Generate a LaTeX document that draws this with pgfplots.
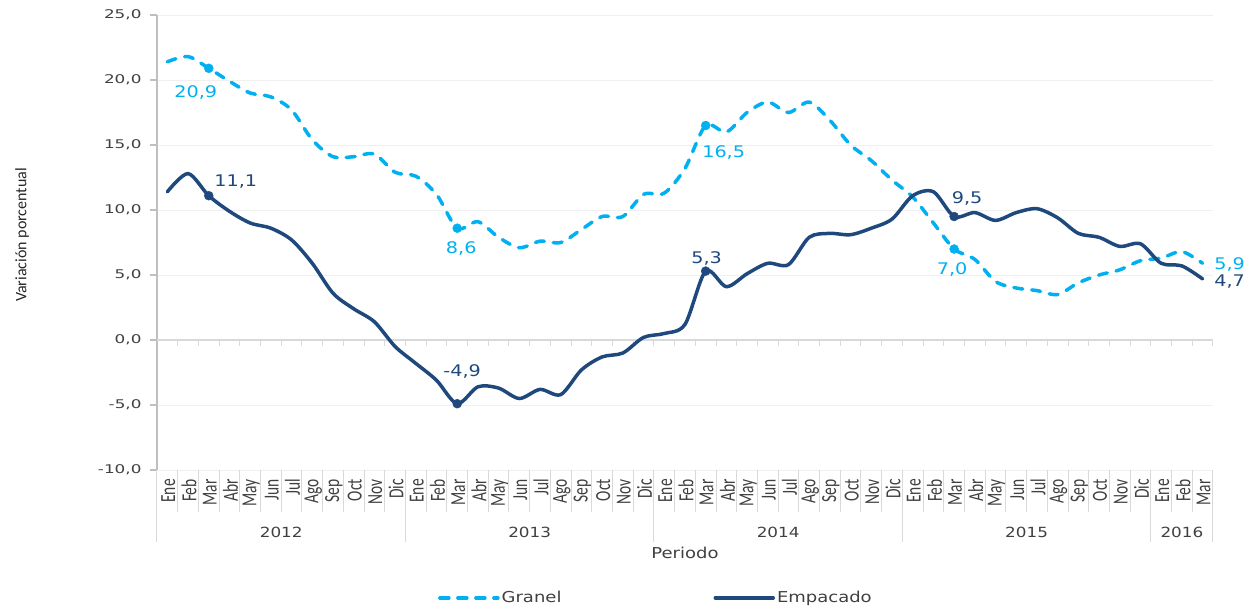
\documentclass[border=0pt]{standalone}
\usepackage{pgfplots}
\usepackage{pgfplotstable}
\pgfplotsset{compat=1.18}
\usepackage{fontspec}
\setmainfont{DejaVu Sans}
\newfontfamily\dv{DejaVu Sans}[FakeStretch=1.2]
\newfontfamily\dvt{DejaVu Sans}[FakeStretch=1.4]
\newfontfamily\calfont{Carlito}
\newfontfamily\calr{Carlito}[FakeStretch=0.72]
\definecolor{granel}{HTML}{00B0F0}
\definecolor{empac}{HTML}{1F497D}
\definecolor{txt}{HTML}{404040}
\definecolor{sep}{HTML}{D9D9D9}
\definecolor{yax}{HTML}{BFBFBF}

\pgfplotstableread{
x granel empacado
0 21.4 11.4
1 21.8 12.8
2 20.9 11.1
3 19.9 9.9
4 19.0 9.0
5 18.7 8.6
6 17.7 7.7
7 15.4 5.9
8 14.1 3.6
9 14.1 2.4
10 14.3 1.4
11 12.9 -0.5
12 12.6 -1.8
13 11.2 -3.1
14 8.6 -4.9
15 9.1 -3.6
16 7.9 -3.7
17 7.1 -4.5
18 7.6 -3.8
19 7.5 -4.2
20 8.5 -2.3
21 9.5 -1.3
22 9.5 -1.0
23 11.2 0.2
24 11.3 0.5
25 13.2 1.2
26 16.5 5.3
27 16.0 4.1
28 17.5 5.1
29 18.3 5.9
30 17.5 5.8
31 18.3 7.9
32 16.9 8.2
33 15.0 8.1
34 13.8 8.6
35 12.3 9.3
36 11.0 11.1
37 9.0 11.4
38 7.0 9.5
39 6.2 9.8
40 4.5 9.2
41 4.0 9.8
42 3.8 10.1
43 3.5 9.4
44 4.4 8.2
45 5.0 7.9
46 5.4 7.2
47 6.1 7.4
48 6.3 5.9
49 6.8 5.7
50 5.9 4.7
}\data

\pgfplotstableread{
x granel empacado
2 20.9 11.1
14 8.6 -4.9
26 16.5 5.3
38 7.0 9.5
}\marks

\begin{document}
\begin{tikzpicture}
\useasboundingbox (-157pt,-138pt) rectangle (1096pt,470pt);
\begin{axis}[
  at={(0pt,0pt)}, anchor=south west,
  width=1056pt, height=455pt, scale only axis,
  xmin=-0.5, xmax=50.5, ymin=-10, ymax=25,
  clip=false,
  axis x line*=bottom, axis y line*=left,
  x axis line style={draw=none},
  y axis line style={draw=yax, line width=1.2pt},
  ytick={-10,-5,...,25},
  ytick style={draw=yax, line width=1.2pt},
  major tick length=7pt, tick align=outside,
  /pgf/number format/.cd, fixed, fixed zerofill, precision=1, use comma, assume math mode=true,
  /pgfplots/.cd,
  yticklabel style={font=\dvt\fontsize{12}{14}\selectfont, text=txt, xshift=-5pt},
  xtick={0,...,50},
  xticklabels={Ene,Feb,Mar,Abr,May,Jun,Jul,Ago,Sep,Oct,Nov,Dic,Ene,Feb,Mar,Abr,May,Jun,Jul,Ago,Sep,Oct,Nov,Dic,Ene,Feb,Mar,Abr,May,Jun,Jul,Ago,Sep,Oct,Nov,Dic,Ene,Feb,Mar,Abr,May,Jun,Jul,Ago,Sep,Oct,Nov,Dic,Ene,Feb,Mar},
  xticklabel style={rotate=90, anchor=east, font=\calr\fontsize{21.5}{23}\selectfont, text=txt, yshift=-1pt, inner sep=2pt},
  x tick style={draw=none},
  ymajorgrids, y grid style={draw=black!6, line width=0.8pt},
  legend style={at={(0.4725,-0.281)}, anchor=center, draw=none, fill=none,
    font=\dv\fontsize{15}{17}\selectfont, text=txt, legend columns=2,
    /tikz/every even column/.append style={column sep=150pt}},
  legend image code/.code={\draw[#1] (-2pt,0pt) -- (56pt,0pt);},
]
% zero axis and separators
\draw[sep, line width=1.5pt] (axis cs:-0.5,0) -- (axis cs:50.5,0);
\pgfplotsinvokeforeach{0.5,1.5,...,50.5}{\draw[sep, line width=1pt] (axis cs:#1,0) -- ++(0pt,-6pt);}
\pgfplotsinvokeforeach{0.5,1.5,...,49.5}{\draw[sep, line width=1pt] (axis cs:#1,-10) -- ++(0pt,-42pt);}
\pgfplotsinvokeforeach{-0.5,11.5,23.5,35.5,47.5,50.5}{\draw[sep, line width=1pt] (axis cs:#1,-10) -- ++(0pt,-72pt);}
% years
\node[font=\dv\fontsize{14}{16}\selectfont, text=txt] at (axis cs:5.5,-10) [yshift=-62pt] {2012};
\node[font=\dv\fontsize{14}{16}\selectfont, text=txt] at (axis cs:17.5,-10) [yshift=-62pt] {2013};
\node[font=\dv\fontsize{14}{16}\selectfont, text=txt] at (axis cs:29.5,-10) [yshift=-62pt] {2014};
\node[font=\dv\fontsize{14}{16}\selectfont, text=txt] at (axis cs:41.5,-10) [yshift=-62pt] {2015};
\node[font=\dv\fontsize{14}{16}\selectfont, text=txt] at (axis cs:49,-10) [yshift=-62pt] {2016};

\addplot[granel, line width=3.5pt, smooth, line cap=round, dash pattern=on 9pt off 9pt] table[x=x, y=granel] {\data};
\addlegendentry{Granel}
\addplot[empac, line width=3.5pt, smooth, line cap=round] table[x=x, y=empacado] {\data};
\addlegendentry{Empacado}
\addplot[granel, only marks, mark=*, mark size=4.5pt, forget plot] table[x=x, y=granel] {\marks};
\addplot[empac, only marks, mark=*, mark size=4.5pt, forget plot] table[x=x, y=empacado] {\marks};

% data labels
\node[font=\dv\fontsize{16}{18}\selectfont, text=granel] at (axis cs:2,20.9) [xshift=-13pt, yshift=-24pt] {20,9};
\node[font=\dv\fontsize{16}{18}\selectfont, text=empac] at (axis cs:2,11.1) [xshift=27pt, yshift=14pt] {11,1};
\node[font=\dv\fontsize{16}{18}\selectfont, text=granel] at (axis cs:14,8.6) [xshift=4pt, yshift=-20pt] {8,6};
\node[font=\dv\fontsize{16}{18}\selectfont, text=empac] at (axis cs:14,-4.9) [xshift=5pt, yshift=32pt] {-4,9};
\node[font=\dv\fontsize{16}{18}\selectfont, text=empac] at (axis cs:26,5.3) [xshift=1pt, yshift=13pt] {5,3};
\node[font=\dv\fontsize{16}{18}\selectfont, text=granel] at (axis cs:26,16.5) [xshift=18pt, yshift=-27pt] {16,5};
\node[font=\dv\fontsize{16}{18}\selectfont, text=empac] at (axis cs:38,9.5) [xshift=13pt, yshift=18pt] {9,5};
\node[font=\dv\fontsize{16}{18}\selectfont, text=granel] at (axis cs:38,7.0) [xshift=-2pt, yshift=-20pt] {7,0};
\node[font=\dv\fontsize{16}{18}\selectfont, text=granel] at (axis cs:50,5.9) [xshift=27pt, yshift=-1pt] {5,9};
\node[font=\dv\fontsize{16}{18}\selectfont, text=empac] at (axis cs:50,4.7) [xshift=27pt, yshift=-3pt] {4,7};
\end{axis}
\node[font=\dv\fontsize{15}{17}\selectfont, text=txt] at (528pt,-83pt) {Periodo};
\node[font=\calfont\fontsize{16}{18}\selectfont, text=black!85, rotate=90] at (-135pt,235pt) {Variación porcentual};
\end{tikzpicture}
\end{document}
